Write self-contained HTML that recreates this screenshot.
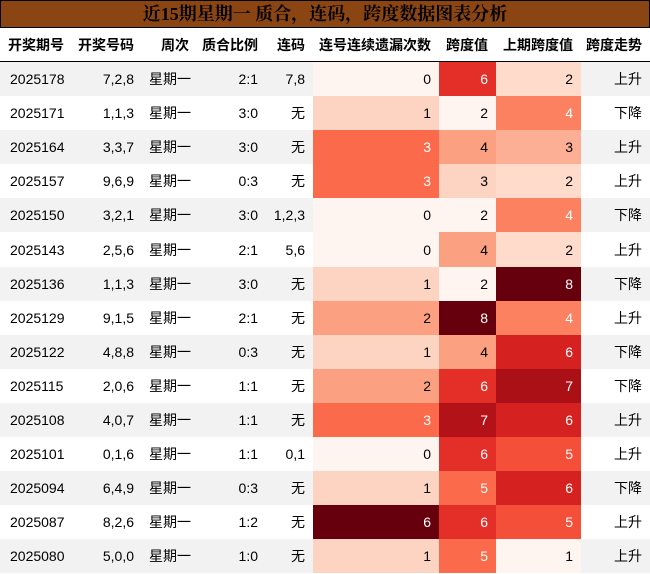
<!DOCTYPE html>
<html><head><meta charset="utf-8">
<style>
body{margin:0;width:650px;height:574px;overflow:hidden;background:#fff;font-family:"Liberation Sans","Noto Sans CJK SC",sans-serif;}
#title{position:absolute;left:0;top:0;width:648px;height:26px;background:#8B4513;border:1px solid #000;text-align:center;font:bold 18px/26px "Liberation Serif","Noto Serif CJK SC",serif;color:#000;}
table{position:absolute;left:0;top:28px;border-collapse:collapse;width:650px;table-layout:fixed;font-size:14px;color:#000;}
th{height:33px;font-weight:bold;text-align:right;padding:0 8px 0 0;border-bottom:1.5px solid #000;white-space:nowrap}
td{height:34.1px;padding:0 8px 0 0;text-align:right;white-space:nowrap}
tr.g td{background:#f2f2f2}
</style></head><body>
<div id="title">近15期星期一 质合，连码，跨度数据图表分析</div>
<table id="tbl">
<colgroup><col style="width:72px"><col style="width:70px"><col style="width:55px"><col style="width:69px"><col style="width:47px"><col style="width:126px"><col style="width:57px"><col style="width:85px"><col style="width:69px"></colgroup>
<thead><tr>
<th style="text-align:left;padding-left:8px">开奖期号</th>
<th>开奖号码</th>
<th>周次</th>
<th>质合比例</th>
<th>连码</th>
<th>连号连续遗漏次数</th>
<th>跨度值</th>
<th>上期跨度值</th>
<th>跨度走势</th>
</tr></thead>
<tbody id="tb"></tbody></table>
<script>
const issues=["2025178","2025171","2025164","2025157","2025150","2025143","2025136","2025129","2025122","2025115","2025108","2025101","2025094","2025087","2025080"];
const numbers=["7,2,8","1,1,3","3,3,7","9,6,9","3,2,1","2,5,6","1,1,3","9,1,5","4,8,8","2,0,6","4,0,7","0,1,6","6,4,9","8,2,6","5,0,0"];
const ratios=["2:1","3:0","3:0","0:3","3:0","2:1","3:0","2:1","0:3","1:1","1:1","1:1","0:3","1:2","1:0"];
const consec=["7,8","无","无","无","1,2,3","5,6","无","无","无","无","无","0,1","无","无","无"];
const omission=[0,1,3,3,0,0,1,2,1,2,3,0,1,6,1];
const span=[6,2,4,3,2,4,2,8,4,6,7,6,5,6,5];
const prevSpan=[2,4,3,2,4,2,8,4,6,7,6,5,6,5,1];
const trend=["上升","下降","上升","上升","下降","上升","下降","上升","下降","下降","上升","上升","下降","上升","上升"];
const stops=[[255,245,240],[254,224,210],[252,187,161],[252,146,114],[251,106,74],[239,59,44],[203,24,29],[165,15,21],[103,0,13]];
function reds(t){t=Math.max(0,Math.min(1,t));const p=t*8,i=Math.min(7,Math.floor(p)),f=p-i;const a=stops[i],b=stops[i+1];return 'rgb('+a.map((v,k)=>Math.round(v+(b[k]-v)*f)).join(',')+')';}
function scale(arr){const mn=Math.min(...arr),mx=Math.max(...arr);return v=>(v-mn)/(mx-mn||1);}
const sO=scale(omission),sS=scale(span),sP=scale(prevSpan);
const tb=document.getElementById('tb');
function cell(tr,txt,name,style){const td=document.createElement('td');td.textContent=txt;


if(style)td.style.cssText=style;tr.appendChild(td);return td;}
function heat(tr,v,t,name){const td=cell(tr,v,name);td.style.background=reds(t);td.style.color=t>=0.4?'#fff':'#000';}
issues.forEach((iss,i)=>{const tr=document.createElement('tr');


if(i%2==0)tr.className='g';
cell(tr,iss,'issue-cell','text-align:left;padding-left:10px');
cell(tr,numbers[i],'numbers-cell');
cell(tr,'星期一','weekday-cell','text-align:left;padding-left:7px');
cell(tr,ratios[i],'ratio-cell');
cell(tr,consec[i],'consecutive-cell');
heat(tr,omission[i],sO(omission[i]),'omission-cell');
heat(tr,span[i],sS(span[i]),'span-cell');
heat(tr,prevSpan[i],sP(prevSpan[i]),'prev-span-cell');
cell(tr,trend[i],'trend-cell');
tb.appendChild(tr);});
</script>
</body></html>
